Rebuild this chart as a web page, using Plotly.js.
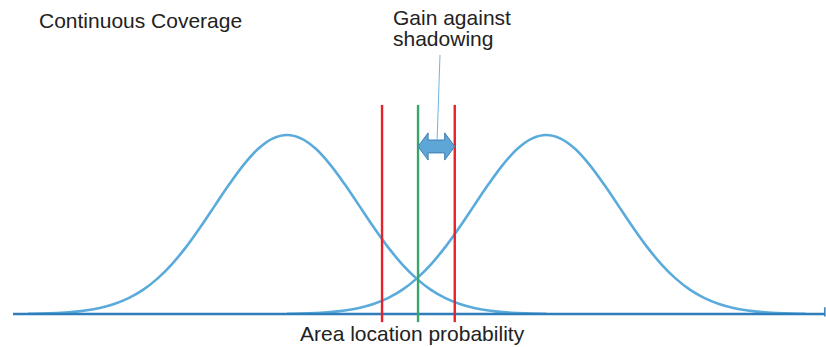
<!DOCTYPE html>
<html>
<head>
<meta charset="utf-8">
<script src="https://cdn.plot.ly/plotly-3.0.1.min.js"></script>
<style>
  html, body { margin: 0; padding: 0; background: #ffffff; }
  #chart { width: 826px; height: 347px; }
</style>
</head>
<body>
<div id="chart"></div>
<script>
// Received signal level distributions (relative density, peak = 100)
const leftX  = [4, 6, 8, 10, 12, 14, 16, 18, 20, 22, 24, 26, 28, 30, 32, 34, 36, 38, 40,
                42, 44, 46, 48, 50, 52, 54, 56, 58, 60, 62, 64, 66, 68, 70, 72, 74, 76];
const rightX = [40, 42, 44, 46, 48, 50, 52, 54, 56, 58, 60, 62, 64, 66, 68, 70, 72, 74, 76,
                78, 80, 82, 84, 86, 88, 90, 92, 94, 96, 98, 100, 102, 104, 106, 108, 110, 112];
const density = [0.2, 0.3, 0.6, 1.1, 2.0, 3.4, 5.6, 8.9, 13.5, 19.8, 27.8, 37.5, 48.7, 60.7, 72.6, 83.5, 92.3, 98.0, 100,
                 98.0, 92.3, 83.5, 72.6, 60.7, 48.7, 37.5, 27.8, 19.8, 13.5, 8.9, 5.6, 3.4, 2.0, 1.1, 0.6, 0.3, 0.2];

// Threshold markers: margins (red) and the reference level (green)
const marginLevels = [53.2, 63.3];
const referenceLevel = 58.2;
const markerSpan = [-4.5, 116.8];

// Horizontal axis extent
const axisSpan = [1.95, 114.7];

const curveColor = '#5aabdb';
const axisColor = '#2f7dba';
const font = { family: 'Liberation Sans, Arial, sans-serif', size: 21, color: '#222222' };

const traces = [
  { x: leftX,  y: density, mode: 'lines', line: { color: curveColor, width: 2.6, shape: 'spline' }, hoverinfo: 'skip' },
  { x: rightX, y: density, mode: 'lines', line: { color: curveColor, width: 2.6, shape: 'spline' }, hoverinfo: 'skip' }
];

const shapes = [];
// axis line with end tick
shapes.push({ type: 'line', xref: 'x', yref: 'y', x0: axisSpan[0], x1: axisSpan[1], y0: 0, y1: 0,
              line: { color: axisColor, width: 2.6 }, layer: 'above' });
shapes.push({ type: 'line', xref: 'x', yref: 'y', x0: axisSpan[1], x1: axisSpan[1], y0: -1.3, y1: 3.8,
              line: { color: axisColor, width: 1.5 }, layer: 'above' });
// vertical markers
marginLevels.forEach(v => shapes.push({ type: 'line', xref: 'x', yref: 'y', x0: v, x1: v,
  y0: markerSpan[0], y1: markerSpan[1], line: { color: '#e8202a', width: 2.4 }, layer: 'above' }));
shapes.push({ type: 'line', xref: 'x', yref: 'y', x0: referenceLevel, x1: referenceLevel,
  y0: markerSpan[0], y1: markerSpan[1], line: { color: '#3aa56a', width: 2.4 }, layer: 'above' });

// double-headed block arrow between reference and upper margin
const ay = 93.6, head = 1.4, shaftH = 3.6, headH = 7.6;
const a0 = referenceLevel, a1 = marginLevels[1];
const arrowPath = [
  'M', a0, ay,
  'L', a0 + head, ay + headH,
  'L', a0 + head, ay + shaftH,
  'L', a1 - head, ay + shaftH,
  'L', a1 - head, ay + headH,
  'L', a1, ay,
  'L', a1 - head, ay - headH,
  'L', a1 - head, ay - shaftH,
  'L', a0 + head, ay - shaftH,
  'L', a0 + head, ay - headH,
  'Z'
].join(' ');
shapes.push({ type: 'path', xref: 'x', yref: 'y', path: arrowPath,
  fillcolor: '#5ea6d6', line: { color: '#3b7fb6', width: 1 }, layer: 'above' });
// leader line from the label to the arrow
shapes.push({ type: 'line', xref: 'x', yref: 'y', x0: 61.25, y0: 144.7, x1: 60.85, y1: 97.5,
  line: { color: '#6cb6e2', width: 1 }, layer: 'above' });

const annotations = [
  { text: 'Continuous Coverage', xref: 'paper', yref: 'paper', x: 37 / 826, y: 1 - 7 / 347,
    xanchor: 'left', yanchor: 'top', showarrow: false, font: font },
  { text: 'Gain against', xref: 'paper', yref: 'paper', x: 391 / 826, y: 1 - 4 / 347,
    xanchor: 'left', yanchor: 'top', showarrow: false, font: font },
  { text: 'shadowing', xref: 'paper', yref: 'paper', x: 391 / 826, y: 1 - 25 / 347,
    xanchor: 'left', yanchor: 'top', showarrow: false, font: font },
  { text: 'Area location probability', xref: 'paper', yref: 'paper', x: 412 / 826, y: 1 - 320 / 347,
    xanchor: 'center', yanchor: 'top', showarrow: false, font: font }
];

const layout = {
  width: 826, height: 347,
  margin: { l: 0, r: 0, t: 0, b: 0 },
  paper_bgcolor: '#ffffff', plot_bgcolor: '#ffffff',
  showlegend: false,
  xaxis: { range: [0.14, 114.86], visible: false, fixedrange: true },
  yaxis: { range: [-18.4, 175.4], visible: false, fixedrange: true },
  shapes: shapes,
  annotations: annotations
};

Plotly.newPlot('chart', traces, layout, { staticPlot: true, displayModeBar: false });
</script>
</body>
</html>
